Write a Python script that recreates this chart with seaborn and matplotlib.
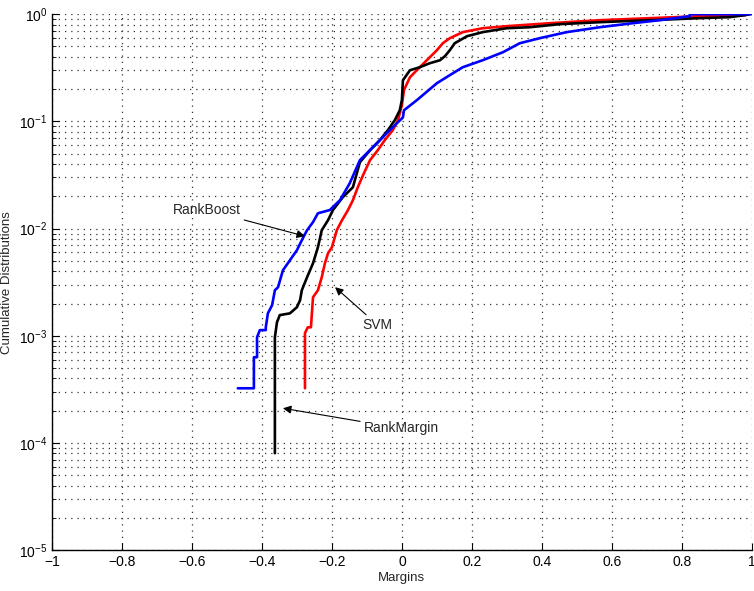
import numpy as np
import pandas as pd
import matplotlib
matplotlib.use('Agg')
import matplotlib.pyplot as plt
import seaborn as sb
from matplotlib.ticker import LogLocator, NullFormatter

# traced vertices of the three cumulative margin curves
boost_x = [-0.469, -0.423, -0.423, -0.414, -0.414, -0.406, -0.389, -0.389, -0.383, -0.371, -0.363,
           -0.354, -0.340, -0.326, -0.314, -0.300, -0.286, -0.271, -0.254, -0.240, -0.206, -0.177,
           -0.149, -0.120, -0.077, -0.049, -0.020, 0.003, 0.006, 0.043, 0.100, 0.137, 0.174, 0.231,
           0.289, 0.337, 0.394, 0.471, 0.566, 0.660, 0.737, 0.823, 0.823, 1.0]
boost_y = [3.24e-4, 3.24e-4, 6.31e-4, 6.31e-4, 9.7e-4, 1.13e-3, 1.13e-3, 1.20e-3, 1.62e-3, 1.93e-3,
           2.66e-3, 2.84e-3, 4.09e-3, 4.75e-3, 5.41e-3, 6.29e-3, 7.80e-3, 9.66e-3, 1.15e-2, 1.39e-2,
           1.49e-2, 1.84e-2, 2.65e-2, 4.35e-2, 6.0e-2, 7.43e-2, 9.22e-2, 0.109, 0.127, 0.158, 0.227,
           0.270, 0.320, 0.372, 0.442, 0.536, 0.597, 0.680, 0.756, 0.824, 0.879, 0.958, 1.0, 1.0]

margin_x = [-0.363, -0.363, -0.357, -0.349, -0.320, -0.300, -0.291, -0.286, -0.271, -0.254, -0.240,
            -0.229, -0.211, -0.197, -0.169, -0.140, -0.120, -0.091, -0.063, -0.040, -0.020, -0.006,
            0.0, 0.003, 0.023, 0.051, 0.080, 0.109, 0.123, 0.137, 0.151, 0.186, 0.231, 0.300, 0.366,
            0.451, 0.566, 0.709, 0.851, 0.937, 0.980, 0.994]
margin_y = [8.03e-5, 9.7e-4, 1.34e-3, 1.56e-3, 1.62e-3, 1.85e-3, 2.15e-3, 2.66e-3, 3.52e-3, 4.75e-3,
            6.70e-3, 9.66e-3, 1.20e-2, 1.49e-2, 1.96e-2, 2.43e-2, 4.16e-2, 5.38e-2, 6.68e-2, 8.28e-2,
            0.103, 0.127, 0.158, 0.242, 0.300, 0.320, 0.349, 0.372, 0.406, 0.461, 0.536, 0.623, 0.680,
            0.740, 0.756, 0.807, 0.842, 0.879, 0.918, 0.938, 0.979, 1.0]

svm_x = [-0.277, -0.277, -0.269, -0.260, -0.254, -0.240, -0.229, -0.220, -0.211, -0.200, -0.186,
         -0.171, -0.154, -0.140, -0.126, -0.111, -0.091, -0.069, -0.049, -0.026, -0.011, 0.0, 0.006,
         0.023, 0.060, 0.080, 0.100, 0.117, 0.137, 0.174, 0.231, 0.300, 0.423, 0.566, 0.709, 0.851,
         0.980, 0.994]
svm_y = [3.24e-4, 1.06e-3, 1.20e-3, 1.20e-3, 2.29e-3, 2.66e-3, 3.52e-3, 4.75e-3, 5.90e-3, 6.70e-3,
         9.66e-3, 1.20e-2, 1.49e-2, 1.84e-2, 2.43e-2, 3.15e-2, 4.35e-2, 5.38e-2, 6.68e-2, 8.28e-2,
         0.103, 0.142, 0.196, 0.258, 0.342, 0.397, 0.461, 0.536, 0.597, 0.680, 0.740, 0.773, 0.824,
         0.879, 0.918, 0.958, 0.979, 1.0]

sb.set_theme(style='white')
plt.rcParams['font.family'] = ['Liberation Sans', 'DejaVu Sans']
plt.rcParams['mathtext.default'] = 'regular'
plt.rcParams['axes.unicode_minus'] = True

fig = plt.figure(figsize=(7.54, 5.91), dpi=100)
ax = fig.add_axes([0.069, 0.069, 0.928, 0.907])

for xs, ys, col in [(svm_x, svm_y, '#ff0000'), (margin_x, margin_y, '#000000'), (boost_x, boost_y, '#0000ff')]:
    sb.lineplot(x=xs, y=ys, sort=False, estimator=None, color=col, linewidth=1.9, ax=ax)

ax.set_yscale('log')
ax.set_xlim(-1, 1)
ax.set_ylim(1e-5, 1)
ax.set_xticks(np.arange(-1, 1.01, 0.2))
ax.set_xticklabels(['\u22121', '\u22120.8', '\u22120.6', '\u22120.4', '\u22120.2', '0', '0.2', '0.4', '0.6', '0.8', '1'])
ax.yaxis.set_major_locator(LogLocator(base=10, numticks=10))
ax.yaxis.set_minor_locator(LogLocator(base=10, subs=np.arange(2, 10), numticks=10))
ax.yaxis.set_minor_formatter(NullFormatter())

dots = (0, (1, 4))
ax.grid(True, which='major', axis='both', linestyle=dots, color='#333333', linewidth=0.9)
ax.grid(True, which='minor', axis='y', linestyle=dots, color='#333333', linewidth=0.9)
ax.tick_params(which='both', direction='in', labelsize=10, colors='black', left=True, bottom=True)
ax.tick_params(which='major', length=5, width=0.8)
ax.tick_params(which='minor', length=3, width=0.6)
for s in ['top', 'right']:
    ax.spines[s].set_visible(False)
for s in ['left', 'bottom']:
    ax.spines[s].set_color('black')
    ax.spines[s].set_linewidth(1.0)

ax.set_xlabel('Margins', fontsize=9.5, labelpad=2)
ax.set_ylabel('Cumulative Distributions', fontsize=9.5, labelpad=4)

arr = dict(arrowstyle='-|>', color='black', lw=0.8, mutation_scale=12, shrinkA=0, shrinkB=0)
ax.annotate('RankBoost', xy=(-0.277, 8.49e-3), xytext=(-0.46, 1.49e-2), ha='right', va='center',
            fontsize=10, arrowprops=arr)
ax.annotate('SVM', xy=(-0.191, 2.84e-3), xytext=(-0.069, 1.26e-3), ha='center', va='center',
            fontsize=10, arrowprops=arr)
ax.annotate('RankMargin', xy=(-0.34, 2.11e-4), xytext=(-0.11, 1.37e-4), ha='left', va='center',
            fontsize=10, arrowprops=arr)

plt.savefig('out.png', dpi=100)
